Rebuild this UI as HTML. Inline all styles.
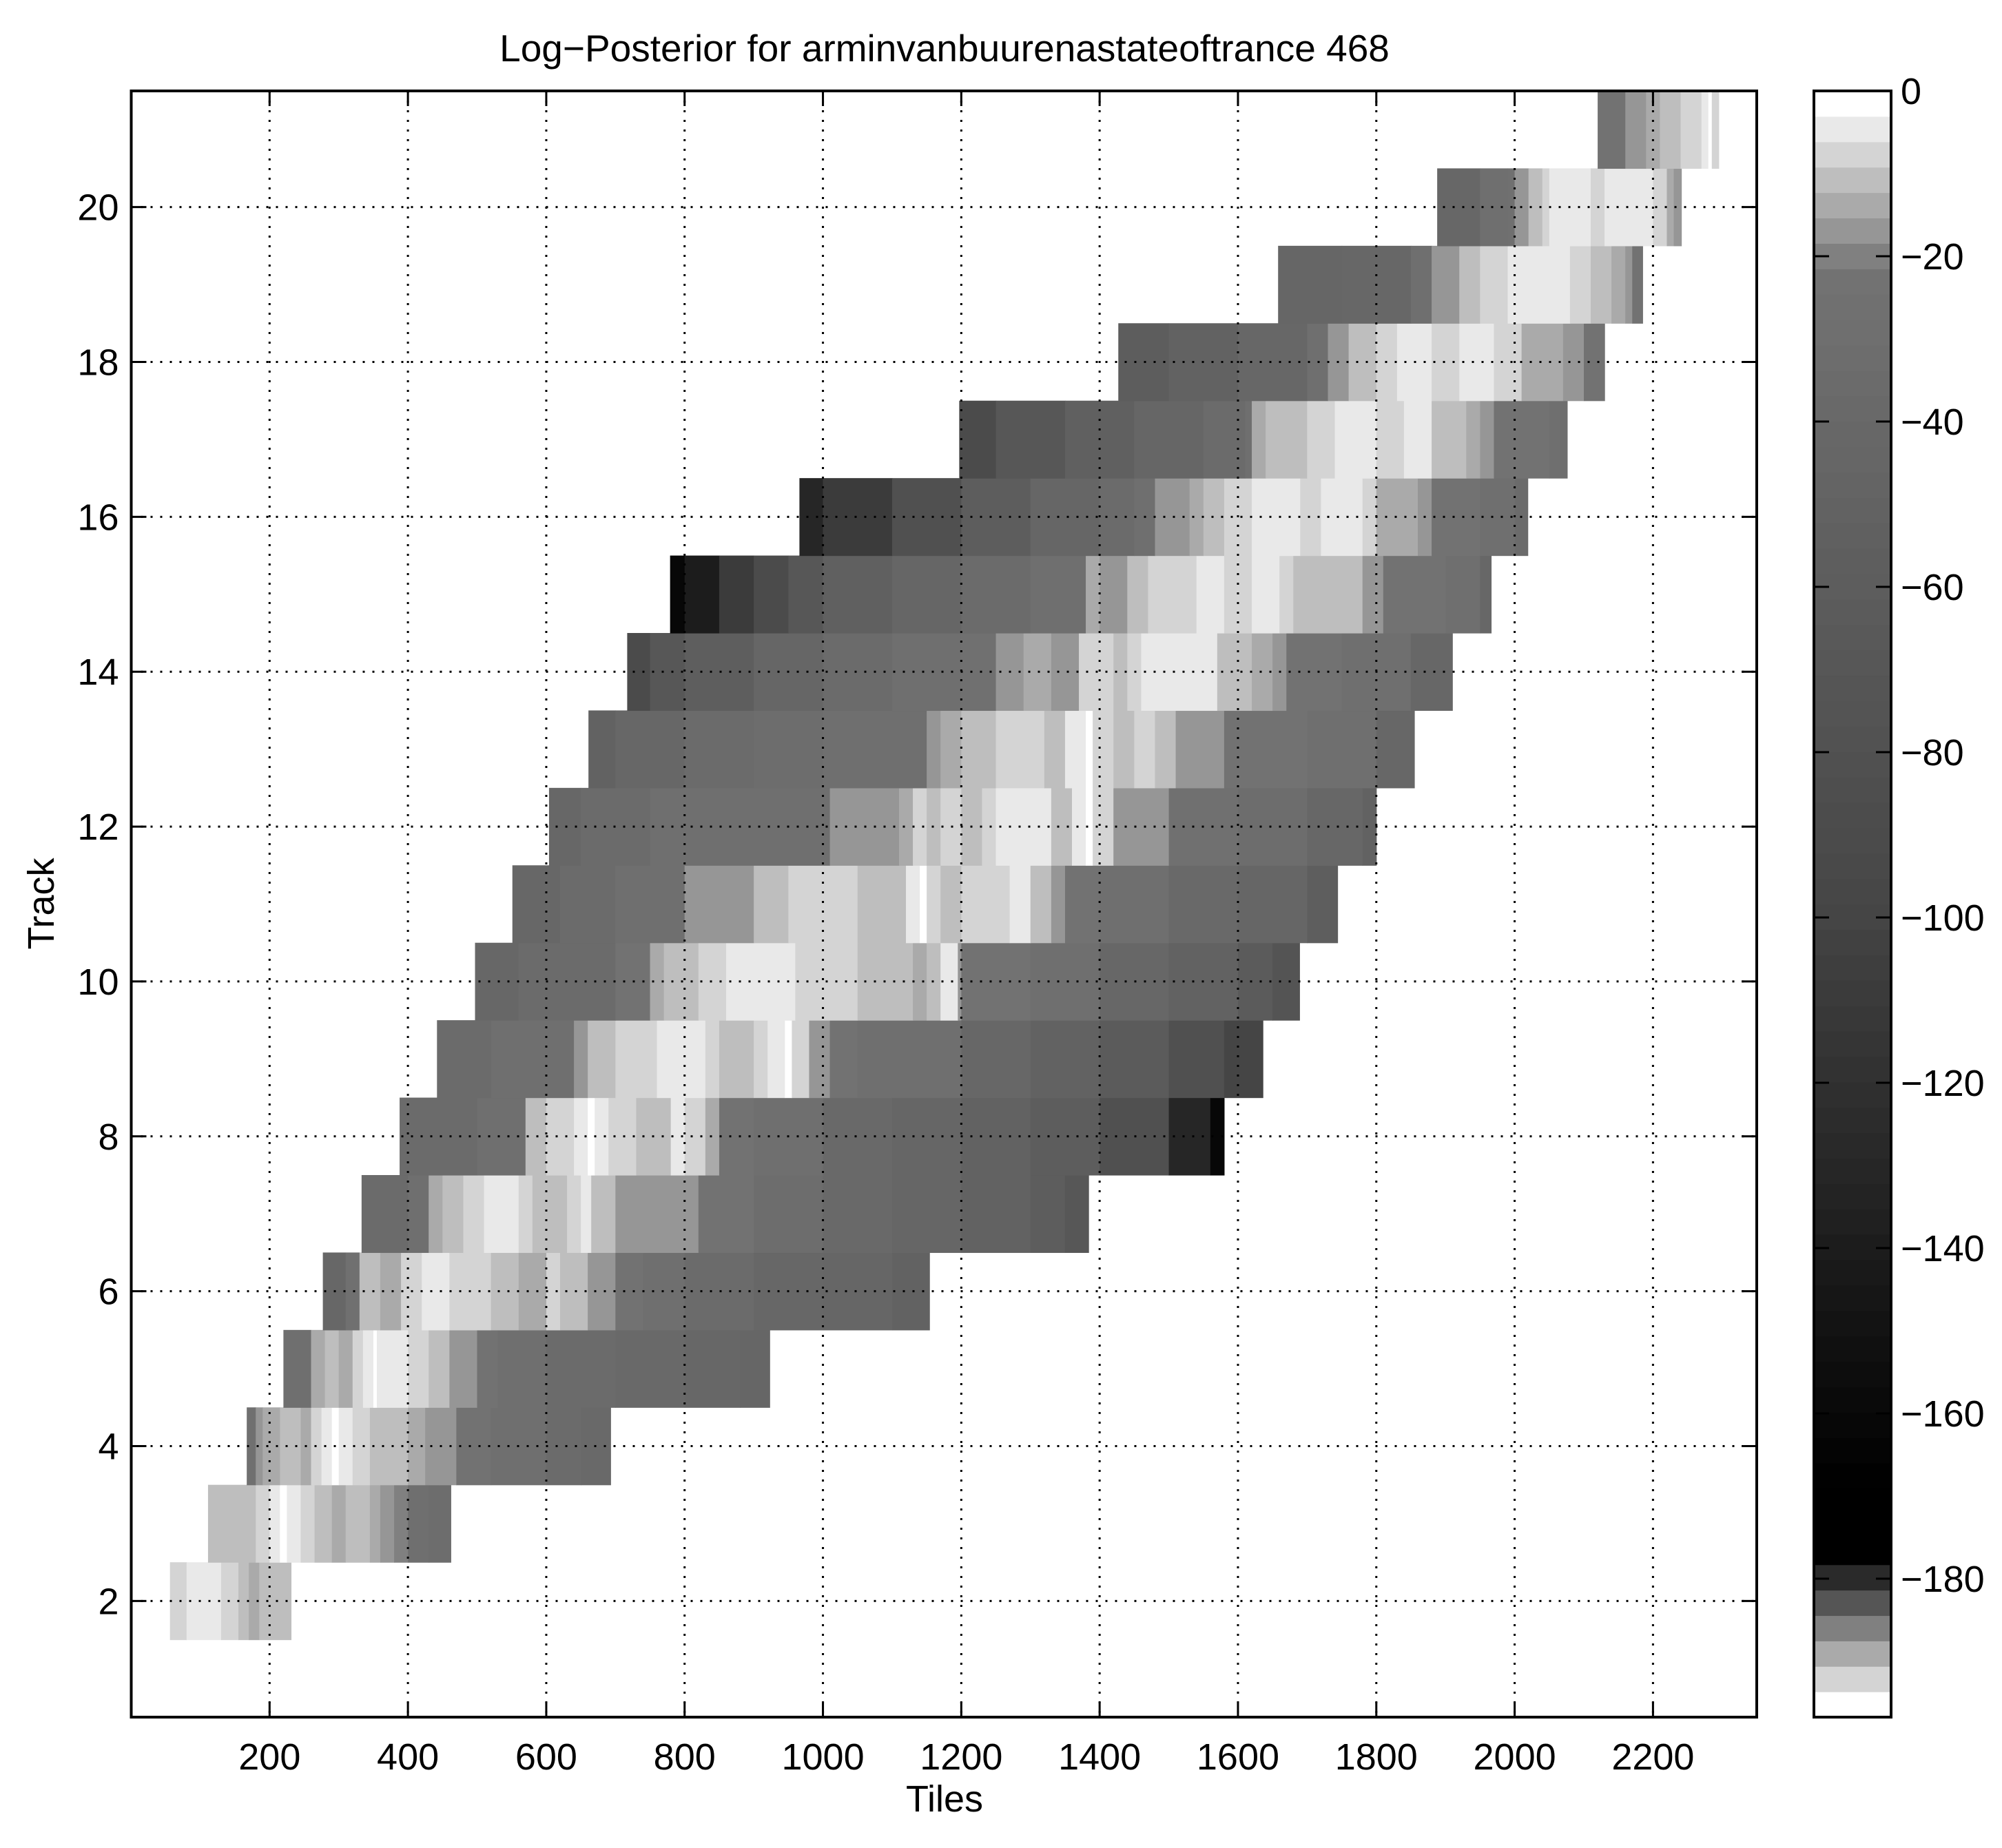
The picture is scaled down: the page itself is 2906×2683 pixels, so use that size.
<!DOCTYPE html>
<html><head><meta charset="utf-8"><style>
html,body{margin:0;padding:0;background:#fff;}
svg{display:block;font-family:"Liberation Sans",Arial,sans-serif;}
</style></head><body>
<svg id="chart" width="2906" height="2683" viewBox="0 0 2906 2683" xmlns="http://www.w3.org/2000/svg">
<rect width="2906" height="2683" fill="#fff"/>
<g id="heat"></g>
<g id="grid"></g>
<g id="axes"></g>
<g id="cbar"></g>
<text x="1371" y="89" font-size="55" text-anchor="middle">Log−Posterior for arminvanbuurenastateoftrance 468</text>
<text x="1371" y="2630" font-size="54" text-anchor="middle">Tiles</text>
<text x="0" y="0" font-size="54" text-anchor="middle" transform="translate(78,1312) rotate(-90)">Track</text>
</svg>
<script>
// Data: rows of tracks; each row has breakpoints (tile start) and values (log-posterior), plus row end tile
const tracks = [2,3,4,5,6,7,8,9,10,11,12,13,14,15,16,17,18,19,20,21];
const rowEnds = [231,462,693,923,1154,1384,1580,1636,1689,1744,1800,1855,1910,1966,2019,2076,2130,2185,2241,2295];
const rowStarts = [
[56,80,130,155,170,185],
[111,180,200,215,225,245,265,290,310,345,360,380,400,430],
[167,180,190,215,245,260,275,290,300,320,345,400,425,445,470,520,600,650],
[220,260,280,300,320,335,350,355,400,430,460,500,530,600,700,800,880],
[277,310,330,360,390,420,460,520,560,600,620,660,700,740,800,900,1000,1100],
[333,400,430,450,480,510,560,580,630,650,665,700,820,900,1000,1100,1200,1300,1350],
[388,500,570,600,640,660,670,690,730,780,800,830,850,900,1000,1100,1200,1300,1400,1500,1560],
[442,520,640,660,700,760,830,850,900,920,945,955,980,1010,1050,1200,1300,1400,1500,1580],
[497,560,700,750,770,820,860,960,1050,1130,1150,1170,1195,1200,1300,1400,1500,1600,1650],
[551,620,700,800,900,950,1050,1120,1140,1150,1170,1200,1270,1300,1330,1350,1400,1500,1600,1700],
[604,650,750,1010,1110,1130,1150,1170,1200,1230,1250,1330,1360,1380,1390,1420,1500,1600,1700,1780],
[661,700,800,900,1000,1150,1170,1200,1250,1320,1350,1380,1390,1420,1450,1480,1510,1580,1700,1800],
[717,750,800,900,1000,1100,1200,1250,1290,1330,1370,1420,1440,1460,1570,1620,1650,1670,1750,1850],
[779,800,850,900,950,1000,1100,1200,1300,1380,1400,1440,1470,1540,1580,1620,1660,1680,1780,1810,1900,1950],
[966,1000,1100,1200,1300,1400,1450,1480,1530,1550,1580,1620,1690,1720,1780,1800,1860,1880,1950,2000],
[1197,1250,1350,1450,1550,1610,1620,1640,1700,1740,1800,1840,1880,1930,1950,1970,2050],
[1427,1500,1600,1700,1730,1760,1800,1830,1880,1920,1970,2010,2070,2100],
[1658,1750,1850,1880,1920,1950,1990,2080,2110,2140,2160,2170],
[1888,1950,1990,2000,2020,2040,2050,2110,2130,2200,2220,2230],
[2120,2160,2190,2210,2240,2270,2280,2285]
];
const rowValues = [
[-7.7,-4.5,-7.7,-11,-14,-11],
[-11,-7.7,-4.5,-1,-4.5,-7.7,-11,-14,-11,-14,-17,-20,-28,-32],
[-25,-17,-14,-11,-14,-7.7,-4.5,-1,-4.5,-7.7,-11,-14,-17,-16,-24,-30,-34,-38],
[-30,-14,-11,-14,-7.7,-4.5,-1,-4.5,-7.7,-11,-17,-22,-30,-34,-38,-42,-46],
[-40,-26,-11,-14,-7.7,-4.5,-7.7,-11,-14,-7.7,-11,-17,-22,-30,-36,-40,-46,-52],
[-34,-30,-14,-11,-7.7,-4.5,-7.7,-11,-7.7,-4.5,-11,-17,-22,-32,-38,-44,-52,-60,-68],
[-34,-30,-11,-7.7,-4.5,-1,-4.5,-7.7,-11,-4.5,-7.7,-14,-22,-30,-38,-46,-52,-60,-80,-130,-160],
[-34,-30,-17,-11,-7.7,-4.5,-7.7,-11,-7.7,-4.5,-1,-7.7,-17,-24,-30,-40,-50,-62,-80,-100],
[-40,-34,-22,-14,-11,-7.7,-4.5,-7.7,-11,-14,-11,-4.5,-17,-22,-30,-40,-50,-62,-75],
[-40,-34,-30,-17,-11,-7.7,-11,-4.5,-1,-7.7,-11,-7.7,-4.5,-11,-17,-22,-30,-38,-46,-58],
[-40,-34,-30,-17,-14,-7.7,-11,-7.7,-11,-7.7,-4.5,-11,-4.5,-1,-7.7,-17,-26,-32,-40,-50],
[-50,-42,-36,-32,-30,-17,-14,-11,-7.7,-11,-4.5,-1,-7.7,-11,-7.7,-11,-17,-22,-30,-40],
[-90,-70,-58,-44,-36,-30,-26,-17,-14,-17,-7.7,-11,-7.7,-4.5,-11,-14,-17,-24,-30,-40],
[-160,-140,-110,-90,-70,-54,-44,-36,-30,-14,-17,-11,-7.7,-4.5,-7.7,-4.5,-7.7,-11,-17,-24,-30,-40],
[-130,-110,-80,-60,-44,-34,-30,-17,-14,-11,-7.7,-4.5,-7.7,-4.5,-7.7,-14,-17,-24,-30,-36],
[-90,-70,-54,-44,-34,-30,-14,-11,-7.7,-4.5,-7.7,-4.5,-11,-14,-17,-24,-30],
[-60,-50,-40,-30,-17,-11,-7.7,-4.5,-7.7,-4.5,-7.7,-14,-17,-24],
[-46,-40,-30,-17,-11,-7.7,-4.5,-7.7,-11,-14,-17,-24],
[-40,-30,-26,-17,-11,-7.7,-4.5,-7.7,-4.5,-7.7,-14,-17],
[-24,-17,-14,-11,-7.7,-4.5,-1,-7.7]
];
const xTicks = [200,400,600,800,1000,1200,1400,1600,1800,2000,2200];
const yTicks = [2,4,6,8,10,12,14,16,18,20];
const cTicks = [0,-20,-40,-60,-80,-100,-120,-140,-160,-180];

const NS='http://www.w3.org/2000/svg';
const L=190.5,R=2550,T=132,B=2493;
const X0=0,X1=2350,Y0=0.5,Y1=21.5,C0=-196.75,C1=0;
const xs=t=>L+(t-X0)/(X1-X0)*(R-L);
const ys=k=>B-(k-Y0)/(Y1-Y0)*(B-T);
function mk(tag,attrs,parent){const e=document.createElementNS(NS,tag);for(const k in attrs)e.setAttribute(k,attrs[k]);parent.appendChild(e);return e;}
function grayIdx(i){
  const top={63:255,62:233,61:212,60:190,59:170,58:150,57:128,0:255,1:212,2:170,3:128,4:85,5:42};
  if(top[i]!==undefined)return top[i];
  let g;
  if(i<=12) g=10-(12-i)*3;
  else if(i<=31.5) g=10+3.08*(i-12);
  else g=70+(i-31.5)*1.8;
  return Math.max(0,Math.min(118,Math.round(g)));
}
function color(v){let i=Math.floor((v-C0)/(C1-C0)*64);i=Math.max(0,Math.min(63,i));const g=grayIdx(i);return `rgb(${g},${g},${g})`;}

const heat=document.getElementById('heat');
tracks.forEach((k,r)=>{
  const st=rowStarts[r],vals=rowValues[r];
  for(let j=0;j<st.length;j++){
    const a=st[j],b=j+1<st.length?st[j+1]:rowEnds[r];
    const c=mk('rect',{x:xs(a),y:ys(k+0.5),width:xs(b)-xs(a)+0.6,height:ys(k-0.5)-ys(k+0.5)+0.6,fill:color(vals[j])},heat);
    
    
  }
});

const grid=document.getElementById('grid'),axes=document.getElementById('axes');
xTicks.forEach(t=>{
  const x=xs(t);
  const g=mk('line',{x1:x,y1:T,x2:x,y2:B,stroke:'#000','stroke-width':3,'stroke-dasharray':'3 11'},grid);
  
  mk('line',{x1:x,y1:B,x2:x,y2:B-22,stroke:'#000','stroke-width':3},axes);
  mk('line',{x1:x,y1:T,x2:x,y2:T+22,stroke:'#000','stroke-width':3},axes);
  const tx=mk('text',{x:x,y:B+76,'font-size':54,'text-anchor':'middle'},axes);tx.textContent=t;
  
});
yTicks.forEach(t=>{
  const y=ys(t);
  const g=mk('line',{x1:L,y1:y,x2:R,y2:y,stroke:'#000','stroke-width':3,'stroke-dasharray':'3 11'},grid);
  
  mk('line',{x1:L,y1:y,x2:L+22,y2:y,stroke:'#000','stroke-width':3},axes);
  mk('line',{x1:R,y1:y,x2:R-22,y2:y,stroke:'#000','stroke-width':3},axes);
  const tx=mk('text',{x:L-18,y:y+19,'font-size':54,'text-anchor':'end'},axes);tx.textContent=t;
  
});
const box=mk('rect',{x:L,y:T,width:R-L,height:B-T,fill:'none',stroke:'#000','stroke-width':4},axes);


// colorbar
const cb=document.getElementById('cbar');
const CL=2633,CR=2745;
const cy=v=>B-(v-C0)/(C1-C0)*(B-T);
for(let i=0;i<64;i++){
  const v0=C0+i*(C1-C0)/64,v1=C0+(i+1)*(C1-C0)/64;
  const g=grayIdx(i);
  const r=mk('rect',{x:CL,y:cy(v1),width:CR-CL,height:cy(v0)-cy(v1)+0.6,fill:`rgb(${g},${g},${g})`},cb);
  
}
cTicks.forEach(v=>{
  const y=cy(v);
  mk('line',{x1:CL,y1:y,x2:CL+22,y2:y,stroke:'#000','stroke-width':3},cb);
  mk('line',{x1:CR,y1:y,x2:CR-22,y2:y,stroke:'#000','stroke-width':3},cb);
  const tx=mk('text',{x:CR+14,y:y+19,'font-size':54},cb);tx.textContent=v===0?'0':'−'+(-v);
  
});
const cbox=mk('rect',{x:CL,y:T,width:CR-CL,height:B-T,fill:'none',stroke:'#000','stroke-width':4},cb);

</script>
</body></html>
